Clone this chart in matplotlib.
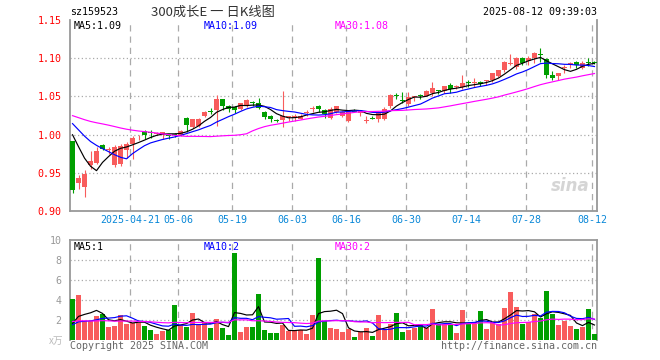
import numpy as np
import pandas as pd
import matplotlib.pyplot as plt

# 日K线数据 2025-04-07 ~ 2025-08-12
opens = [0.991, 0.937, 0.931, 0.960, 0.963, 0.986, 0.980, 0.960, 0.962, 0.980,
         0.988, 0.995, 1.005, 1.003, 1.001, 1.001, 0.999, 1.001, 1.000, 1.022,
         1.010, 1.011, 1.024, 1.031, 1.032, 1.046, 1.038, 1.036, 1.034, 1.037,
         1.043, 1.041, 1.030, 1.025, 1.0185, 1.019, 1.023, 1.022, 1.021, 1.028,
         1.033, 1.038, 1.032, 1.022, 1.030, 1.025, 1.018, 1.031, 1.028, 1.018,
         1.022, 1.020, 1.021, 1.037, 1.052, 1.045, 1.040, 1.049, 1.052, 1.051,
         1.055, 1.058, 1.057, 1.065, 1.062, 1.062, 1.068, 1.067, 1.069, 1.070,
         1.071, 1.077, 1.084, 1.093, 1.088, 1.100, 1.096, 1.100, 1.106, 1.099,
         1.078, 1.077, 1.087, 1.092, 1.095, 1.087, 1.095, 1.095]
highs = [0.992, 0.947, 0.954, 0.978, 0.984, 0.988, 0.984, 0.986, 0.988, 0.990,
         0.998, 0.999, 1.006, 1.006, 1.004, 1.004, 1.001, 1.002, 1.006, 1.023,
         1.021, 1.022, 1.031, 1.035, 1.052, 1.047, 1.039, 1.037, 1.042, 1.047,
         1.044, 1.048, 1.031, 1.026, 1.021, 1.057, 1.025, 1.027, 1.027, 1.032,
         1.037, 1.039, 1.034, 1.036, 1.038, 1.031, 1.031, 1.033, 1.032, 1.024,
         1.024, 1.031, 1.036, 1.053, 1.054, 1.056, 1.056, 1.051, 1.053, 1.058,
         1.069, 1.059, 1.064, 1.067, 1.065, 1.078, 1.072, 1.074, 1.070, 1.072,
         1.080, 1.085, 1.096, 1.105, 1.101, 1.101, 1.103, 1.108, 1.114, 1.100,
         1.083, 1.081, 1.091, 1.095, 1.096, 1.096, 1.100, 1.096]
lows = [0.923, 0.929, 0.918, 0.955, 0.962, 0.980, 0.975, 0.957, 0.959, 0.969,
        0.968, 0.993, 0.994, 0.996, 0.999, 0.994, 0.994, 0.997, 0.998, 1.003,
        1.009, 1.010, 1.023, 1.027, 1.011, 1.032, 1.029, 1.028, 1.032, 1.036,
        1.037, 1.033, 1.021, 1.016, 1.016, 1.010, 1.018, 1.018, 1.020, 1.025,
        1.029, 1.029, 1.022, 1.020, 1.028, 1.023, 1.016, 1.029, 1.024, 1.015,
        1.020, 1.016, 1.019, 1.035, 1.047, 1.041, 1.038, 1.044, 1.047, 1.050,
        1.051, 1.053, 1.055, 1.055, 1.060, 1.060, 1.062, 1.062, 1.064, 1.065,
        1.069, 1.076, 1.082, 1.091, 1.086, 1.091, 1.091, 1.094, 1.095, 1.074,
        1.071, 1.072, 1.080, 1.087, 1.087, 1.086, 1.090, 1.093]
closes = [0.927, 0.943, 0.949, 0.966, 0.979, 0.981, 0.981, 0.984, 0.985, 0.988,
          0.995, 0.996, 1.000, 1.002, 1.002, 1.003, 0.998, 1.000, 1.005, 1.012,
          1.020, 1.020, 1.030, 1.030, 1.046, 1.038, 1.034, 1.032, 1.041, 1.045,
          1.041, 1.035, 1.023, 1.020, 1.018, 1.025, 1.024, 1.024, 1.025, 1.030,
          1.034, 1.033, 1.027, 1.034, 1.037, 1.029, 1.030, 1.030, 1.031, 1.019,
          1.021, 1.029, 1.034, 1.052, 1.051, 1.044, 1.049, 1.050, 1.051, 1.057,
          1.061, 1.057, 1.063, 1.060, 1.063, 1.068, 1.067, 1.069, 1.066, 1.071,
          1.080, 1.084, 1.095, 1.094, 1.100, 1.094, 1.100, 1.107, 1.104, 1.078,
          1.074, 1.081, 1.088, 1.093, 1.091, 1.094, 1.094, 1.094]
volumes = [4.1, 4.5, 1.9, 1.9, 2.4, 2.6, 1.3, 1.4, 2.5, 1.6,
           1.7, 1.7, 1.4, 1.0, 0.6, 0.9, 1.0, 3.5, 1.5, 1.3,
           2.7, 1.5, 1.7, 1.2, 2.1, 1.2, 0.5, 8.7, 0.8, 1.3,
           1.3, 4.6, 1.0, 0.7, 0.7, 1.5, 0.9, 0.9, 1.0, 0.6,
           2.5, 8.2, 1.9, 1.2, 1.1, 0.8, 1.1, 0.3, 0.8, 1.2,
           0.4, 2.5, 1.0, 1.6, 2.7, 0.8, 1.0, 1.2, 1.6, 1.2,
           3.1, 1.6, 1.6, 1.6, 0.7, 3.0, 1.6, 1.6, 2.9, 1.1,
           1.8, 1.6, 3.2, 4.8, 3.3, 1.6, 1.8, 2.6, 2.2, 4.9,
           2.6, 1.5, 1.9, 1.4, 1.1, 1.3, 3.1, 0.6]

# 图表之前的收盘价和成交量 (用于均线)
prev_closes = [1.022, 1.028, 1.035, 1.031, 1.026, 1.030, 1.038, 1.042, 1.036, 1.033,
               1.029, 1.024, 1.027, 1.032, 1.035, 1.030, 1.026, 1.028, 1.031, 1.017,
               1.025, 1.031, 1.036, 1.030, 1.023, 1.021, 1.024, 1.019, 1.008]
prev_volumes = [2.3, 1.8, 2.6, 2.1, 1.7, 1.9, 2.4, 2.2, 1.6, 1.8,
                2.5, 2.0, 1.7, 1.9, 2.2, 1.6, 1.8, 2.1, 2.0, 1.8,
                1.6, 1.4, 1.5, 1.3, 1.2, 1.0, 0.9, 1.1, 1.2]

tick_idx = [10, 18, 27, 37, 46, 56, 66, 76, 87]
tick_labels = ['2025-04-21', '05-06', '05-19', '06-03', '06-16',
               '06-30', '07-14', '07-28', '08-12']

red = '#f85c5c'
green = '#009f00'
ma_colors = ['black', '#0000ff', '#ff00ff']
n = len(closes)
x = np.arange(n)

all_c = pd.Series(prev_closes + closes)
all_v = pd.Series(prev_volumes + volumes)
ma_c = [all_c.rolling(w).mean().values[-n:] for w in (5, 10, 30)]
ma_v = [all_v.rolling(w).mean().values[-n:] for w in (5, 10, 30)]

plt.rcParams['font.family'] = ['DejaVu Sans Mono', 'Noto Sans CJK SC']
fig = plt.figure(figsize=(6.6, 3.6), dpi=100)
ax = fig.add_axes([70/660, 1-211/360, 527/660, 191/360])
axv = fig.add_axes([70/660, 1-340/360, 527/660, 100/360])

o = np.array(opens); c = np.array(closes)
cols = [red if cc >= oo else green for oo, cc in zip(o, c)]
ax.vlines(x, lows, highs, colors=cols, linewidth=0.8, zorder=3)
body = np.maximum(np.abs(c - o), 0.0012)
ax.bar(x, body, bottom=np.minimum(o, c), width=0.74, color=cols, zorder=3)
for m, col in zip(ma_c, ma_colors):
    ax.plot(x, m, color=col, linewidth=0.85, zorder=4)

axv.bar(x, volumes, width=0.74, color=cols, zorder=3)
for m, col in zip(ma_v, ma_colors):
    axv.plot(x, m, color=col, linewidth=0.85, zorder=4)

for a in (ax, axv):
    a.set_xlim(-0.42, n - 0.58)
    for t in tick_idx:
        a.axvline(t - 0.4, color='#aaaaaa', linestyle=(0, (5, 4)), linewidth=0.9, zorder=1)
    a.tick_params(length=0)
    for s in a.spines.values():
        s.set_color('#999999')
        s.set_linewidth(1.3)

ax.set_ylim(0.90, 1.15)
ax.set_yticks([0.90, 0.95, 1.00, 1.05, 1.10, 1.15])
ax.set_yticklabels(['0.90', '0.95', '1.00', '1.05', '1.10', '1.15'], color='red', fontsize=7.2)
for yv in [0.95, 1.00, 1.05, 1.10]:
    ax.axhline(yv, color='#aaaaaa', linestyle=(0, (1, 2)), linewidth=0.9, zorder=1)
ax.spines['top'].set_visible(False)
ax.set_xticks([t - 0.4 for t in tick_idx])
ax.set_xticklabels(tick_labels, color='#0a88d8', fontsize=7.2)
ax.tick_params(axis='y', pad=6)
ax.tick_params(axis='x', pad=3)

axv.set_ylim(0, 10)
axv.set_yticks([2, 4, 6, 8, 10])
axv.set_yticklabels(['2', '4', '6', '8', '10'], color='#999999', fontsize=7.2)
axv.tick_params(axis='y', pad=6)
for yv in [2, 4, 6, 8]:
    axv.axhline(yv, color='#aaaaaa', linestyle=(0, (1, 2)), linewidth=0.9, zorder=1)
axv.spines['bottom'].set_visible(False)
axv.set_xticks([])

def ftext(px, py, s, **kw):
    fig.text(px / 660, 1 - py / 360, s, va='center', fontsize=7.2, **kw)

ftext(70, 12, 'sz159523')
fig.text(213 / 660, 1 - 12 / 360, '300成长E 一 日K线图', ha='center', va='center',
         fontsize=9.5, color='#333333', family=['Noto Sans CJK SC', 'DejaVu Sans'])
ftext(597, 12, '2025-08-12 09:39:03', ha='right')
ftext(74, 26, 'MA5:1.09', color='black')
ftext(204, 26, 'MA10:1.09', color='#0000ff')
ftext(335, 26, 'MA30:1.08', color='#ff00ff')
ftext(74, 247, 'MA5:1', color='black')
ftext(204, 247, 'MA10:2', color='#0000ff')
ftext(335, 247, 'MA30:2', color='#ff00ff')
fig.text(63 / 660, 1 - 341 / 360, 'x万', ha='right', va='center', fontsize=7,
         color='#bbbbbb', family=['Noto Sans CJK SC', 'DejaVu Sans'])
ftext(70, 346, 'Copyright 2025 SINA.COM', color='#666666')
ftext(597, 346, 'http://finance.sina.com.cn', ha='right', color='#666666')
ax.text(0.985, 0.13, 'sina', transform=ax.transAxes, ha='right', va='center',
        fontsize=12, fontweight='bold', style='italic', color='#d5d5d5',
        family='DejaVu Sans', zorder=2)

fig.savefig('out.png', dpi=100)
